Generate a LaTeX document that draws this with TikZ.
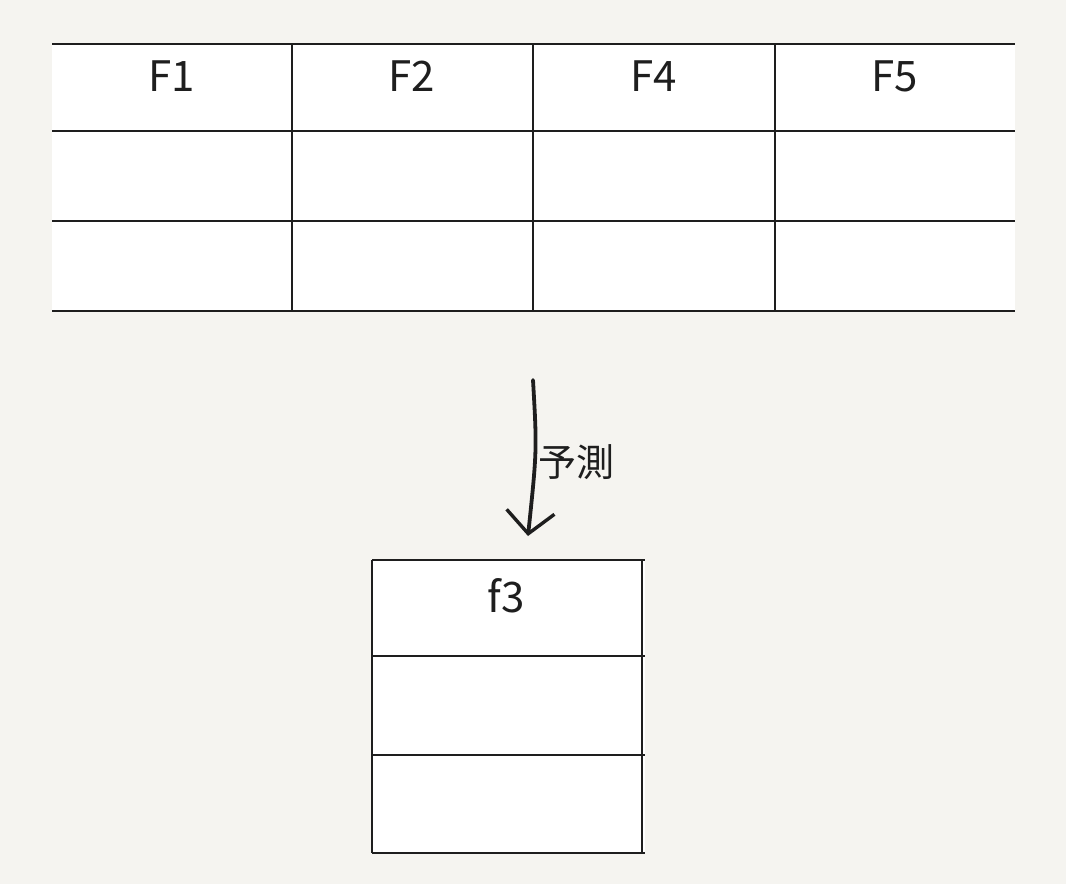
\documentclass[tikz,border=0pt]{standalone}
\usepackage{fontspec}
\setmainfont{Noto Sans CJK JP}
\usepackage{tikz}
\usetikzlibrary{positioning,arrows.meta}
\definecolor{paper}{HTML}{F5F4F0}
\definecolor{ink}{HTML}{1E1E1E}
\tikzset{
 rule/.style={draw=ink,line width=2.8pt},
 head/.style={font=\fontsize{42}{48}\selectfont,text=ink,inner sep=0pt},
 predarrow/.style={draw=ink,line width=3.8pt,line cap=round,-{Straight Barb[length=22pt,width=48pt,line width=3.4pt]}},
}
\begin{document}
\begin{tikzpicture}[x=1pt,y=-1pt]
 \fill[paper] (0,0) rectangle (1066,884);
 % table of features
 \fill[white] (52,44) rectangle (1015,311);
 \foreach \y in {44,131,221,311} \draw[rule] (52,\y) -- (1015,\y);
 \foreach \x in {292,533,775} \draw[rule] (\x,44) -- (\x,311);
 \node[head] (F1) at (172,76) {F1};
 \node[head] (F2) at (412,76) {F2};
 \node[head] (F4) at (654,76) {F4};
 \node[head] (F5) at (895,76) {F5};
 % predicted column
 \fill[white] (372,560) rectangle (645,853);
 \foreach \y in {560,656,755,853} \draw[rule] (372,\y) -- (645,\y);
 \foreach \x in {372,642} \draw[rule] (\x,560) -- (\x,853);
 \node[head] (f3) at (506,596) {f3};
 % arrow
 \coordinate (predtop) at (533,380);
 \coordinate (predtip) at (528,536);
 \draw[predarrow] (predtop) .. controls (537,450) .. (predtip);
 \node[head,font=\fontsize{38}{44}\selectfont] (predlbl) at (576,462) {予測};
\end{tikzpicture}
\end{document}
